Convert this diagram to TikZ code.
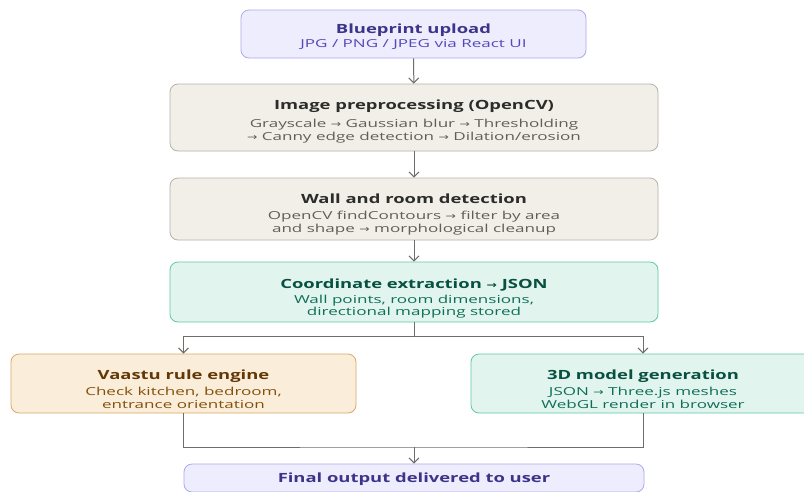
\documentclass[tikz,border=0pt]{standalone}
\usepackage{fontspec}
\setmainfont{Open Sans}
\newfontfamily\headfam[FakeStretch=1.45]{Open Sans}
\newfontfamily\bodyfam[FakeStretch=1.55]{Open Sans}
\newfontfamily\symfont[FakeStretch=1.3]{DejaVu Sans}
\usetikzlibrary{arrows.meta}

% palette
\definecolor{purpleFill}{HTML}{EEEDFE}
\definecolor{purpleLine}{HTML}{AFA9EC}
\definecolor{purpleHead}{HTML}{3C3489}
\definecolor{purpleText}{HTML}{534AB7}
\definecolor{grayFill}{HTML}{F1EFE8}
\definecolor{grayLine}{HTML}{B4B2A9}
\definecolor{grayHead}{HTML}{2C2C2A}
\definecolor{grayText}{HTML}{5F5E5A}
\definecolor{tealFill}{HTML}{E1F5EE}
\definecolor{tealLine}{HTML}{5DCAA5}
\definecolor{tealHead}{HTML}{085041}
\definecolor{tealText}{HTML}{0F6E56}
\definecolor{amberFill}{HTML}{FAEEDA}
\definecolor{amberLine}{HTML}{D9A969}
\definecolor{amberHead}{HTML}{633806}
\definecolor{amberText}{HTML}{854F0B}
\definecolor{wire}{HTML}{6E6D68}

\newcommand\rarr{{\symfont\fontsize{9.5}{12}\selectfont →}}
\newcommand\headfont{\headfam\fontsize{12.7}{15}\selectfont\bfseries}
\newcommand\bodyfont{\bodyfam\fontsize{11}{12.3}\selectfont}
% title line with a strut that fixes the space above its baseline
\newcommand\head[3][22pt]{{\headfont\color{#2}\rule{0pt}{#1}#3}}
% strut that fixes the space below the last baseline
\newcommand\tail{\rule[-3pt]{0pt}{3pt}}

\begin{document}
\begin{tikzpicture}[x=1pt,y=-1pt,
  box/.style={draw, rounded corners=8pt, line width=0.8pt, align=center,
    inner sep=0pt, font=\bodyfont},
  purplebox/.style={box, fill=purpleFill, draw=purpleLine, text=purpleText},
  graybox/.style={box, fill=grayFill, draw=grayLine, text=grayText},
  tealbox/.style={box, fill=tealFill, draw=tealLine, text=tealText},
  amberbox/.style={box, fill=amberFill, draw=amberLine, text=amberText},
  wireline/.style={draw=wire, line width=1pt},
  flow/.style={wireline, -{Straight Barb[length=5pt,width=10pt,line width=1pt]}}
]
\clip (0,0) rectangle (804,491);
\fill[white] (0,0) rectangle (804,491);

\node[purplebox, minimum width=345pt, minimum height=48pt] (up) at (413.5,34)
  {\head[15pt]{purpleHead}{Blueprint upload}\\[1.7pt]
   JPG / PNG / JPEG via React UI\tail};

\node[graybox, minimum width=488pt, minimum height=67pt] (pre) at (414,117.5)
  {\head[18pt]{grayHead}{Image preprocessing (OpenCV)}\\[5.5pt]
   Grayscale \rarr\ Gaussian blur \rarr\ Thresholding\\
   \rarr\ Canny edge detection \rarr\ Dilation/erosion\tail};

\node[graybox, minimum width=488pt, minimum height=62pt] (wall) at (414,209)
  {\head[21pt]{grayHead}{Wall and room detection}\\[3.5pt]
   OpenCV findContours \rarr\ filter by area\\
   and shape \rarr\ morphological cleanup\tail};

\node[tealbox, minimum width=488pt, minimum height=60pt] (coord) at (414,292)
  {\head[23pt]{tealHead}{Coordinate extraction \rarr\ JSON}\\[3pt]
   Wall points, room dimensions,\\
   directional mapping stored\tail};

\node[amberbox, minimum width=345pt, minimum height=59pt] (vaastu) at (183.5,383.5)
  {\head[24pt]{amberHead}{Vaastu rule engine}\\[3.5pt]
   Check kitchen, bedroom,\\
   entrance orientation\tail};

\node[tealbox, minimum width=344pt, minimum height=59pt] (model) at (643,383.5)
  {\head[24pt]{tealHead}{3D model generation}\\[3.5pt]
   JSON \rarr\ Three.js meshes\\
   WebGL render in browser\tail};

\node[purplebox, minimum width=460pt, minimum height=28pt, text=purpleHead,
      font=\headfont] (final) at (414,478)
  {\rule{0pt}{13pt}Final output delivered to user\tail};

% main pipeline
\draw[flow] (up) -- (pre);
\draw[flow] (pre) -- (wall);
\draw[flow] (wall) -- (coord);

% fork into the two branches
\coordinate (fork) at (414,336);
\draw[wireline] (coord.south) -- (fork);
\draw[wireline] (vaastu.north |- fork) -- (model.north |- fork);
\draw[flow] (vaastu.north |- fork) -- (vaastu.north);
\draw[flow] (model.north |- fork) -- (model.north);

% join towards the final output
\coordinate (join) at (414,447);
\draw[wireline] (vaastu.south) |- (join) -| (model.south);
\draw[flow] (join) -- (final.north);
\end{tikzpicture}
\end{document}
